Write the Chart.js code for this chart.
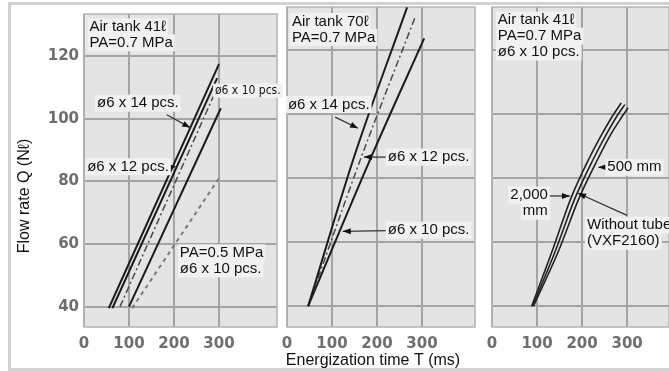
<!DOCTYPE html>
<html>
<head>
<meta charset="utf-8">
<script src="https://cdn.jsdelivr.net/npm/chart.js@4/dist/chart.umd.min.js"></script>
<style>
  body { margin: 0; background: #fff; }
  #wrap { position: relative; width: 669px; height: 371px; overflow: hidden; background: #fff; }
  #wrap canvas { position: absolute; left: 0; top: 0; }
  #frame { position: absolute; left: 8px; top: 2px; width: 700px; height: 363px;
           border: 3px solid #d2d2d2; border-right: none; }
</style>
</head>
<body>
<div id="wrap">
  <div id="frame"></div>
  <canvas id="c1" width="669" height="371"></canvas>
  <canvas id="c2" width="669" height="371"></canvas>
  <canvas id="c3" width="669" height="371"></canvas>
</div>
<script>
// tick values shared by the three panels
const xTicks = [0, 100, 200, 300];
const yTicks = [40, 60, 80, 100, 120];

// left panel: air tank 41 l, PA = 0.7 MPa (+ one 0.5 MPa curve)
const tank41_14pcs_T = [55, 300];
const tank41_14pcs_Q = [39.5, 117.5];
const tank41_12pcs_T = [63, 296];
const tank41_12pcs_Q = [39.5, 113];
const tank41_10pcs_T = [80, 290];
const tank41_10pcs_Q = [40, 108];
const tank41_lower_T = [100, 304];
const tank41_lower_Q = [40, 103.4];
const tank41_05MPa_T = [107, 300];
const tank41_05MPa_Q = [39.5, 81];

// middle panel: air tank 70 l, PA = 0.7 MPa
const tank70_14pcs_T = [47, 150, 267];
const tank70_14pcs_Q = [40, 87, 133.4];
const tank70_12pcs_T = [47, 165, 284];
const tank70_12pcs_Q = [40, 86.5, 130];
const tank70_10pcs_T = [47, 190, 305];
const tank70_10pcs_Q = [40, 87.5, 123.7];

// right panel: tube length, air tank 41 l, 10 pcs
const tube2000_T = [88, 133, 176, 215, 245, 270, 287];
const tube2000_Q = [40, 57, 74, 86, 94, 100, 103.5];
const tube500_T = [90, 140, 185, 225, 255, 280, 295];
const tube500_Q = [40, 57, 74, 86, 94, 100, 103];
const noTube_T = [92, 147, 194, 235, 265, 290, 302];
const noTube_Q = [40, 57, 74, 86, 94, 99.5, 102];

function pts(T, Q) {
  return T.map((t, i) => ({ x: t, y: Q[i] }));
}

const SOLID = { borderColor: '#1c1c1c', borderWidth: 2 };
const DASHDOT = { borderColor: '#4a4a4a', borderWidth: 1.5, borderDash: [7, 3, 2, 3] };
const DASHED = { borderColor: '#7a7a7a', borderWidth: 2, borderDash: [4, 4] };
const THIN = { borderColor: '#222', borderWidth: 1.6 };

function line(label, T, Q, style) {
  return Object.assign({
    label: label,
    data: pts(T, Q),
    pointRadius: 0,
    fill: false,
    cubicInterpolationMode: 'monotone'
  }, style);
}

const TXT = '"Liberation Sans", Arial, sans-serif';

// background + frame of the plot area
const panelBg = {
  id: 'panelBg',
  beforeDraw(chart) {
    const a = chart.chartArea, ctx = chart.ctx;
    ctx.save();
    ctx.fillStyle = '#e4e4e4';
    ctx.fillRect(a.left, a.top, a.right - a.left, a.bottom - a.top);
    ctx.restore();
  },
  beforeDatasetsDraw(chart) {
    const a = chart.chartArea, ctx = chart.ctx;
    ctx.save();
    ctx.strokeStyle = '#b4b4b4';
    ctx.lineWidth = 1.5;
    ctx.strokeRect(a.left, a.top, a.right - a.left, a.bottom - a.top);
    ctx.restore();
  }
};

// labels, leader lines and arrowheads
const notes = {
  id: 'notes',
  afterDatasetsDraw(chart, args, opts) {
    const ctx = chart.ctx, xs = chart.scales.x, ys = chart.scales.y;
    const X = v => xs.getPixelForValue(v), Y = v => ys.getPixelForValue(v);
    ctx.save();
    (opts.items || []).forEach(n => {
      if (n.arrow) {
        const [x0, y0] = [X(n.arrow[0]), Y(n.arrow[1])];
        const [x1, y1] = [X(n.arrow[2]), Y(n.arrow[3])];
        ctx.strokeStyle = '#333';
        ctx.lineWidth = 1.3;
        ctx.beginPath(); ctx.moveTo(x0, y0); ctx.lineTo(x1, y1); ctx.stroke();
        const ang = Math.atan2(y1 - y0, x1 - x0);
        ctx.fillStyle = '#111';
        ctx.beginPath();
        ctx.moveTo(x1, y1);
        ctx.lineTo(x1 - 8 * Math.cos(ang) + 3 * Math.sin(ang), y1 - 8 * Math.sin(ang) - 3 * Math.cos(ang));
        ctx.lineTo(x1 - 8 * Math.cos(ang) - 3 * Math.sin(ang), y1 - 8 * Math.sin(ang) + 3 * Math.cos(ang));
        ctx.closePath(); ctx.fill();
      }
      if (!n.text) return;
      const size = n.size || 15;
      ctx.font = size + 'px ' + (n.family || TXT);
      ctx.textBaseline = 'middle';
      ctx.textAlign = n.align || 'left';
      const x = n.px ? n.x : X(n.x);
      const y0 = n.px ? n.y : Y(n.y);
      n.text.forEach((t, i) => {
        const y = y0 + i * 16;
        if (n.bg !== false) {
          const w = ctx.measureText(t).width;
          const left = ctx.textAlign === 'right' ? x - w : x;
          ctx.fillStyle = '#f1f1f1';
          ctx.fillRect(left - 2, y - size / 2 - 1, w + 4, size + 2);
        }
        ctx.fillStyle = '#111';
        if (n.rotate) {
          ctx.save();
          ctx.translate(x, y);
          ctx.rotate(-Math.PI / 2);
          ctx.textAlign = 'center';
          ctx.fillText(t, 0, 0);
          ctx.restore();
        } else {
          ctx.fillText(t, x, y);
        }
      });
    });
    ctx.restore();
  }
};

const tickFont = { family: 'DejaVu Sans', weight: 'bold', size: 15 };
const gridStyle = { color: '#a4a4a4', lineWidth: 2, drawTicks: false };

function makePanel(id, datasets, cfg) {
  const ctx = document.getElementById(id).getContext('2d');
  return new Chart(ctx, {
    type: 'line',
    data: { datasets: datasets },
    plugins: [panelBg, notes],
    options: {
      responsive: false,
      animation: false,
      layout: { padding: { left: cfg.padLeft, right: cfg.padRight, top: 7, bottom: 0 } },
      plugins: {
        legend: { display: false },
        tooltip: { enabled: false },
        notes: { items: cfg.notes }
      },
      scales: {
        x: {
          type: 'linear',
          min: 0,
          max: cfg.xMax,
          afterBuildTicks: s => { s.ticks = xTicks.map(v => ({ value: v })); },
          afterFit: s => { s.height = 44; },
          grid: gridStyle,
          border: { display: false },
          ticks: { font: tickFont, color: '#6e6e6e', padding: 8 }
        },
        y: {
          type: 'linear',
          min: 33.5,
          max: 133.5,
          afterBuildTicks: s => { s.ticks = yTicks.map(v => ({ value: v })); },
          afterFit: s => { s.width = cfg.yWidth; },
          grid: gridStyle,
          border: { display: false },
          ticks: { display: cfg.showY, font: tickFont, color: '#6e6e6e', padding: 5 }
        }
      }
    }
  });
}

makePanel('c1', [
  line('ø6 x 14 pcs.', tank41_14pcs_T, tank41_14pcs_Q, SOLID),
  line('ø6 x 12 pcs.', tank41_12pcs_T, tank41_12pcs_Q, SOLID),
  line('ø6 x 10 pcs.', tank41_10pcs_T, tank41_10pcs_Q, DASHDOT),
  line('PA=0.7 MPa', tank41_lower_T, tank41_lower_Q, SOLID),
  line('PA=0.5 MPa ø6 x 10 pcs.', tank41_05MPa_T, tank41_05MPa_Q, DASHED)
], {
  padLeft: 0, padRight: 392, yWidth: 84, xMax: 429, showY: true,
  notes: [
    { text: ['Flow rate Q (Nℓ)'], px: true, x: 25, y: 196, rotate: true, size: 16, bg: false },
    { text: ['Air tank 41ℓ', 'PA=0.7 MPa'], x: 12, y: 129.4 },
    { text: ['ø6 x 14 pcs.'], x: 29, y: 105, arrow: [184, 101.3, 236, 97.2] },
    { text: ['ø6 x 12 pcs.'], x: 7, y: 84.7, arrow: [191, 84.7, 204, 84.7] },
    { text: ['ø6 x 10 pcs.'], x: 291, y: 109, size: 12, family: '"Liberation Sans Narrow", "DejaVu Sans Condensed", sans-serif' },
    { text: ['PA=0.5 MPa', 'ø6 x 10 pcs.'], x: 213, y: 57.2 }
  ]
});

makePanel('c2', [
  line('ø6 x 14 pcs.', tank70_14pcs_T, tank70_14pcs_Q, SOLID),
  line('ø6 x 12 pcs.', tank70_12pcs_T, tank70_12pcs_Q, DASHDOT),
  line('ø6 x 10 pcs.', tank70_10pcs_T, tank70_10pcs_Q, SOLID)
], {
  padLeft: 287, padRight: 669 - 475, yWidth: 0, xMax: 418, showY: false,
  notes: [
    { text: ['Energization time T (ms)'], px: true, x: 373, y: 361, align: 'center', size: 16, bg: false },
    { text: ['Air tank 70ℓ', 'PA=0.7 MPa'], x: 11, y: 129 },
    { text: ['ø6 x 14 pcs.'], x: 2, y: 103, arrow: [107, 99.1, 158, 95.6] },
    { text: ['ø6 x 12 pcs.'], x: 224, y: 86.6, arrow: [222, 86.6, 171, 86.6] },
    { text: ['ø6 x 10 pcs.'], x: 224, y: 63.75, arrow: [222, 63.6, 124, 63.4] }
  ]
});

makePanel('c3', [
  line('2,000 mm', tube2000_T, tube2000_Q, THIN),
  line('500 mm', tube500_T, tube500_Q, THIN),
  line('Without tube (VXF2160)', noTube_T, noTube_Q, THIN)
], {
  padLeft: 492, padRight: 0, yWidth: 0, xMax: 393, showY: false,
  notes: [
    { text: ['Air tank 41ℓ', 'PA=0.7 MPa', 'ø6 x 10 pcs.'], x: 13, y: 129.4 },
    { text: ['500 mm'], x: 256, y: 83.4, arrow: [254, 83.4, 236, 83.4] },
    { text: ['2,000', 'mm'], x: 124, y: 74.7, align: 'right', arrow: [126, 74.5, 173, 74.4] },
    { text: ['Without tube', '(VXF2160)'], x: 211, y: 65.3, arrow: [300, 68.4, 191, 75.3] }
  ]
});
</script>
</body>
</html>
